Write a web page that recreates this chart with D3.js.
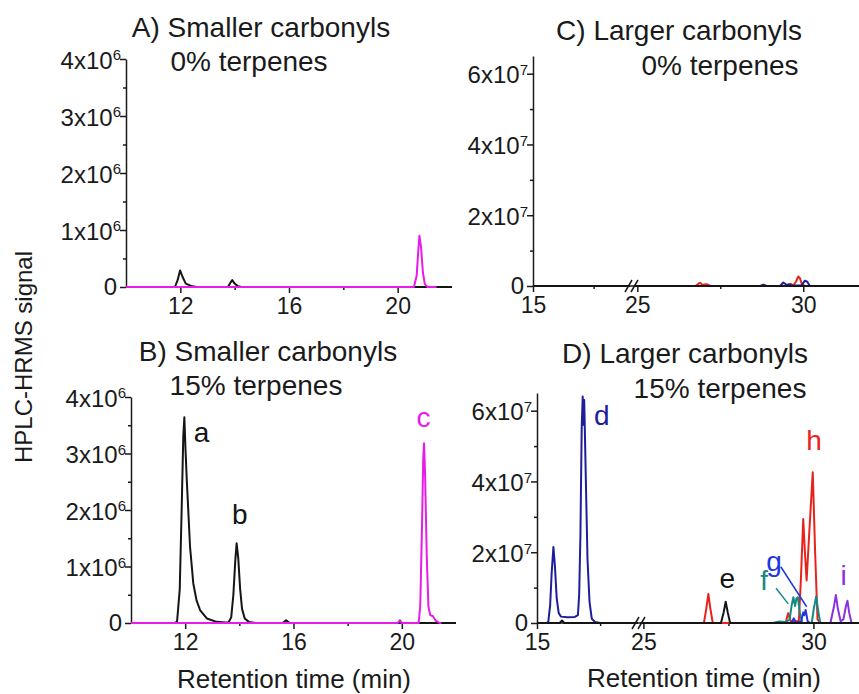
<!DOCTYPE html>
<html>
<head>
<meta charset="utf-8">
<script src="https://cdn.jsdelivr.net/npm/d3@7"></script>
<style>
body { margin: 0; background: #fff; }
svg { display: block; font-family: "Liberation Sans", Arial, sans-serif; }
.axis path, .axis line { stroke: #1a1a1a; stroke-width: 1.5; }
.axis text { font-size: 23px; fill: #1a1a1a; font-family: "Liberation Sans", Arial, sans-serif; }
.trace { fill: none; stroke-width: 2; stroke-linejoin: round; }
.title { font-size: 28px; fill: #1a1a1a; text-anchor: middle; }
.axis-label { font-size: 26px; fill: #1a1a1a; text-anchor: middle; }
.peak { font-size: 28px; text-anchor: middle; }
</style>
</head>
<body>
<svg id="fig" width="859" height="694"></svg>
<script>
// --- Data: [retention time (min), signal in units of 10^exp] ---
const smallXTicks = [12, 16, 20];
const smallXMinor = [14, 18];
const smallYTicks = [0, 1, 2, 3, 4];
const smallYMinor = [0.5, 1.5, 2.5, 3.5];
const smallExp = "6";

const largeXTicks = [15, 25, 30];
const largeXMinor = [17.5, 27.5];
const largeYTicks = [0, 2, 4, 6];
const largeYMinor = [1, 3, 5];
const largeExp = "7";

// A) smaller carbonyls, 0% terpenes
const A_black = [[10,0],[11.8,0],[11.9,0.12],[11.99,0.29],[12.08,0.18],[12.2,0.06],[12.4,0.02],[12.6,0],
  [13.75,0],[13.85,0.08],[13.91,0.12],[14.0,0.06],[14.1,0.02],[14.25,0],[22,0]];
const A_magenta = [[10,0],[20.6,0],[20.7,0.2],[20.76,0.65],[20.8,0.9],[20.86,0.7],[20.93,0.25],[21.0,0.05],[21.1,0],[21.43,0]];

// B) smaller carbonyls, 15% terpenes
const B_black = [[10,0],[11.6,0],[11.7,0.02],[11.8,0.6],[11.87,2.0],[11.93,3.3],[11.97,3.64],[12.01,3.1],[12.06,2.53],
  [12.18,1.35],[12.3,0.7],[12.42,0.4],[12.55,0.23],[12.8,0.08],[13.16,0.02],[13.5,0.01],[13.6,0.01],[13.7,0.1],
  [13.78,0.5],[13.85,1.1],[13.9,1.41],[13.96,1.15],[14.03,0.6],[14.1,0.25],[14.2,0.08],[14.35,0.02],[14.6,0],
  [15.6,0],[15.73,0.05],[15.85,0],[22,0]];
const B_magenta = [[10,0],[19.85,0],[19.93,0.05],[20.0,0],[20.62,0],[20.68,0.3],[20.74,1.6],[20.79,2.9],[20.82,3.18],
  [20.86,2.6],[20.92,1.2],[20.98,0.3],[21.05,0.14],[21.15,0.12],[21.25,0.04],[21.4,0],[21.46,0]];

// C) larger carbonyls, 0% terpenes
const C_black = [[15,0],[19,0],[24.9,0],[31.68,0]];
const C_red = [[26.75,0],[26.85,0.07],[26.9,0.09],[26.96,0.03],[27.05,0.05],[27.12,0.04],[27.2,0],
  [29.55,0],[29.62,0.06],[29.7,0.02],[29.78,0.12],[29.85,0.27],[29.9,0.22],[29.96,0.05],[30.05,0]];
const C_navy = [[28.7,0],[28.8,0.04],[28.9,0],[29.3,0],[29.4,0.1],[29.5,0.03],[29.57,0.05],[29.65,0.01],
  [29.95,0.02],[30.05,0.15],[30.12,0.12],[30.2,0]];

// D) larger carbonyls, 15% terpenes
const D_navy = [[15.4,0],[15.45,0.05],[15.52,0.5],[15.58,1.4],[15.65,2.15],[15.71,1.6],[15.78,0.7],[15.86,0.28],
  [15.95,0.18],[16.2,0.16],[16.5,0.17],[16.62,0.22],[16.67,0.8],[16.72,2.5],[16.77,5.5],[16.81,6.4],[16.84,5.6],
  [16.87,6.3],[16.93,4.2],[17.0,1.8],[17.08,0.6],[17.17,0.12],[17.3,0.03],[17.5,0]];
const D_black = [[15,0],[15.9,0],[15.99,0.07],[16.08,0],[19,0],[24.9,0],[27.28,0],[27.36,0.3],[27.42,0.6],
  [27.48,0.3],[27.55,0],[31.34,0]];
const D_red = [[26.78,0],[26.84,0.35],[26.91,0.82],[26.97,0.4],[27.04,0],[29.18,0],[29.26,0.28],[29.33,0.05],
  [29.57,0.05],[29.63,1.2],[29.7,2.94],[29.75,2.0],[29.8,1.2],[29.88,2.6],[29.98,4.26],[30.05,2.0],[30.12,0.1],[30.2,0]];
const D_teal = [[28.8,0],[29.0,0.04],[29.2,0.03],[29.3,0.1],[29.36,0.5],[29.41,0.73],[29.46,0.48],[29.5,0.7],
  [29.54,0.73],[29.6,0.3],[29.67,0],[29.95,0],[30.01,0.4],[30.08,0.75],[30.14,0.35],[30.2,0]];
const D_blue = [[29.35,0],[29.42,0.13],[29.5,0],[29.64,0.05],[29.7,0.3],[29.73,0.22],[29.77,0.37],[29.83,0.05],[29.9,0]];
const D_purple = [[30.5,0],[30.6,0.45],[30.66,0.79],[30.72,0.4],[30.8,0.05],[30.88,0.1],[30.95,0.45],[31.0,0.63],
  [31.05,0.3],[31.12,0],[31.34,0]];

// peak labels: [text, time, signal]
const B_labels = [["a", 12.6, 3.21], ["b", 14.02, 1.76], ["c", 20.8, 3.47]];
const D_labels = [["d", 17.57, 5.6], ["e", 27.47, 0.99], ["f", 28.55, 0.93], ["g", 28.84, 1.48], ["h", 30.02, 4.89], ["i", 30.89, 1.07]];
// leader lines: [[t1, v1], [t2, v2]]
const D_leaders = [[[29.04, 1.59], [29.8, 0.46]], [[28.9, 0.98], [29.26, 0.54]]];

// --- Colours ---
const col = {
  black: "#151515", magenta: "#e81ce8", red: "#e8231c", navy: "#1e1e9c",
  blue: "#2335dc", teal: "#168a80", purple: "#8a30e4"
};

// --- Layout (pixels) ---
const layout = {
  A: { left: 126, right: 452, base: 287, top: 59, yMax: 4, xDomain: [10, 22] },
  B: { left: 131, right: 456, base: 623, top: 397, yMax: 4, xDomain: [10, 22] },
  C: { left: 533, brk: [630, 634], right: 859, base: 286, top: 56, yMax: 6.5, leftDomain: [15, 19], rightDomain: [24.9, 31.68] },
  D: { left: 537, brk: [638, 640], right: 859, base: 623, top: 393, yMax: 6.5, leftDomain: [15, 19], rightDomain: [24.9, 31.34] }
};

const svg = d3.select("#fig");

function segmentsFor(p) {
  if (p.brk) {
    return [
      { x: d3.scaleLinear().domain(p.leftDomain).range([p.left, p.brk[0]]), lo: p.leftDomain[0], hi: p.leftDomain[1] },
      { x: d3.scaleLinear().domain(p.rightDomain).range([p.brk[1], p.right]), lo: p.rightDomain[0], hi: p.rightDomain[1] }
    ];
  }
  return [{ x: d3.scaleLinear().domain(p.xDomain).range([p.left, p.right]), lo: p.xDomain[0], hi: p.xDomain[1] }];
}

function drawPanel(key, cfg) {
  const p = layout[key];
  const g = svg.append("g");
  const y = d3.scaleLinear().domain([0, p.yMax]).range([p.base, p.top]);
  const segs = segmentsFor(p);
  const xOf = t => { const s = segs.find(s => t >= s.lo && t <= s.hi) || segs[segs.length - 1]; return s.x(t); };

  // x axis line + ticks
  g.append("line").attr("x1", p.left).attr("x2", p.right).attr("y1", p.base).attr("y2", p.base)
    .attr("stroke", "#1a1a1a").attr("stroke-width", 1.5);
  segs.forEach(s => {
    const inSeg = v => v >= s.lo && v <= s.hi;
    g.append("g").attr("class", "axis").attr("transform", `translate(0,${p.base})`)
      .call(d3.axisBottom(s.x).tickValues(cfg.xTicks.filter(inSeg)).tickSize(6).tickSizeOuter(0).tickPadding(5).tickFormat(d3.format("d")))
      .call(a => a.select(".domain").remove());
    g.append("g").attr("class", "axis").attr("transform", `translate(0,${p.base})`)
      .call(d3.axisBottom(s.x).tickValues(cfg.xMinor.filter(inSeg)).tickSize(3).tickSizeOuter(0).tickFormat(""))
      .call(a => a.select(".domain").remove());
  });

  // axis break marks
  if (p.brk) {
    const bx = (p.brk[0] + p.brk[1]) / 2;
    [-3, 3].forEach(o => {
      g.append("line").attr("x1", bx + o - 4).attr("y1", p.base + 6).attr("x2", bx + o + 3).attr("y2", p.base - 6)
        .attr("stroke", "#1a1a1a").attr("stroke-width", 1.5);
    });
  }

  // y axis
  const ya = g.append("g").attr("class", "axis").attr("transform", `translate(${p.left},0)`)
    .call(d3.axisLeft(y).tickValues(cfg.yTicks).tickSize(6).tickSizeOuter(0).tickFormat(""));
  g.append("g").attr("class", "axis").attr("transform", `translate(${p.left},0)`)
    .call(d3.axisLeft(y).tickValues(cfg.yMinor).tickSize(3).tickSizeOuter(0).tickFormat(""))
    .call(a => a.select(".domain").remove());
  ya.selectAll(".tick").each(function (d) {
    const t = d3.select(this).append("text").attr("text-anchor", "end")
      .attr("fill", "#1a1a1a").style("font-size", "24px");
    if (d === 0) {
      t.attr("x", -9).attr("dy", "0.3em").text("0");
    } else {
      t.attr("x", -5).attr("dy", "0.38em").text(d + "x10");
      t.append("tspan").attr("dy", "-0.55em").style("font-size", "15px").text(cfg.exp);
    }
  });

  // traces
  cfg.series.forEach(sr => {
    segs.forEach(s => {
      const pts = sr.data.filter(d => d[0] >= s.lo && d[0] <= s.hi);
      if (pts.length < 2) return;
      g.append("path").attr("class", "trace").attr("stroke", sr.color)
        .attr("stroke-width", sr.width || 2)
        .attr("d", d3.line().x(d => s.x(d[0])).y(d => y(d[1]))(pts));
    });
  });

  // leader lines and peak labels
  (cfg.leaders || []).forEach(([a, b], i) => {
    g.append("line").attr("x1", xOf(a[0])).attr("y1", y(a[1])).attr("x2", xOf(b[0])).attr("y2", y(b[1]))
      .attr("stroke", cfg.leaderColors[i]).attr("stroke-width", 1.5);
  });
  (cfg.labels || []).forEach(([txt, t, v], i) => {
    g.append("text").attr("class", "peak").attr("x", xOf(t)).attr("y", y(v))
      .attr("fill", cfg.labelColors[i]).text(txt);
  });
}

const small = { xTicks: smallXTicks, xMinor: smallXMinor, yTicks: smallYTicks, yMinor: smallYMinor, exp: smallExp };
const large = { xTicks: largeXTicks, xMinor: largeXMinor, yTicks: largeYTicks, yMinor: largeYMinor, exp: largeExp };

drawPanel("A", Object.assign({}, small, {
  series: [{ data: A_black, color: col.black }, { data: A_magenta, color: col.magenta }]
}));
drawPanel("B", Object.assign({}, small, {
  series: [{ data: B_black, color: col.black, width: 2.5 }, { data: B_magenta, color: col.magenta }],
  labels: B_labels, labelColors: [col.black, col.black, col.magenta]
}));
drawPanel("C", Object.assign({}, large, {
  series: [{ data: C_red, color: col.red }, { data: C_navy, color: col.navy }, { data: C_black, color: col.black }]
}));
drawPanel("D", Object.assign({}, large, {
  series: [
    { data: D_navy, color: col.navy }, { data: D_red, color: col.red }, { data: D_teal, color: col.teal },
    { data: D_blue, color: col.blue }, { data: D_purple, color: col.purple }, { data: D_black, color: col.black }
  ],
  labels: D_labels, labelColors: [col.navy, col.black, col.teal, col.blue, col.red, col.purple],
  leaders: D_leaders, leaderColors: [col.blue, col.teal]
}));

// --- Titles ---
const titles = [
  ["A) Smaller carbonyls", 261, 37], ["0% terpenes", 249, 71],
  ["B) Smaller carbonyls", 268, 361], ["15% terpenes", 256, 395],
  ["C) Larger carbonyls", 679, 40], ["0% terpenes", 720, 75],
  ["D) Larger carbonyls", 685, 363], ["15% terpenes", 720, 398]
];
titles.forEach(([t, x, yy]) => svg.append("text").attr("class", "title").attr("x", x).attr("y", yy).text(t));

svg.append("text").attr("class", "axis-label").attr("x", 294).attr("y", 688).text("Retention time (min)");
svg.append("text").attr("class", "axis-label").attr("x", 704).attr("y", 687).text("Retention time (min)");
svg.append("text").attr("class", "axis-label").attr("transform", "translate(32,357) rotate(-90)")
  .style("font-size", "24px").text("HPLC-HRMS signal");
</script>
</body>
</html>
